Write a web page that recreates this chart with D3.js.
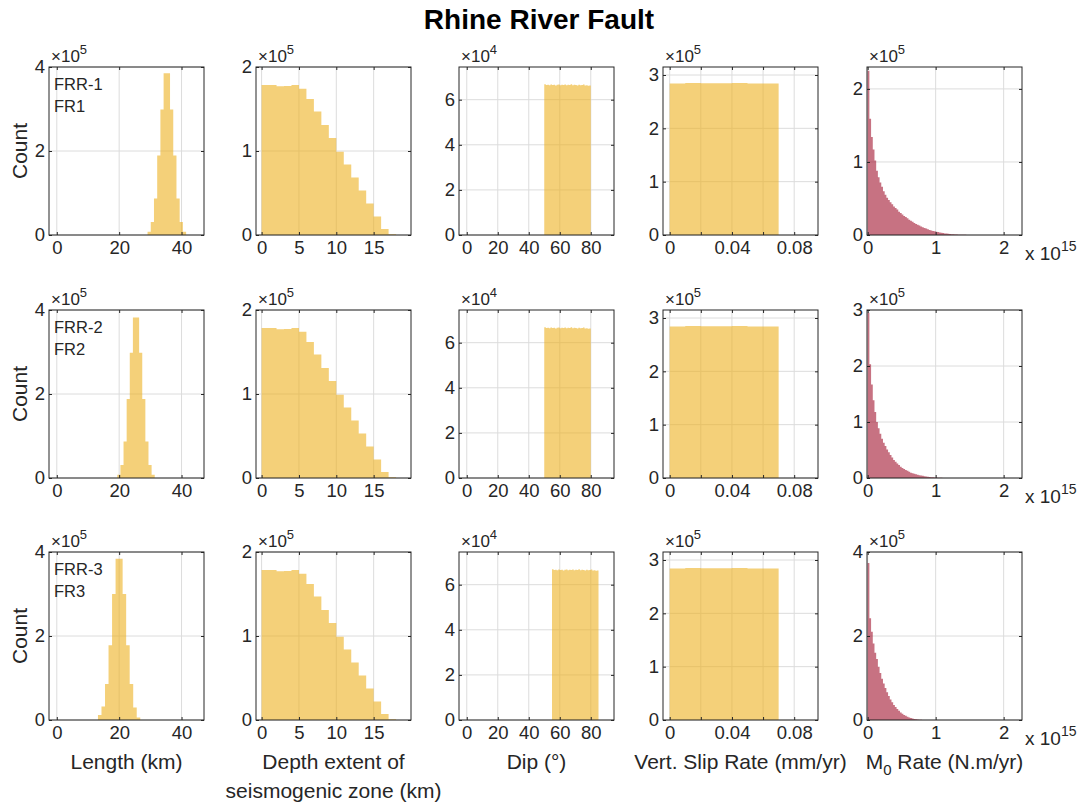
<!DOCTYPE html>
<html>
<head>
<meta charset="utf-8">
<script src="https://cdn.jsdelivr.net/npm/d3@7"></script>
<style>
  body { margin: 0; background: #fff; }
  text { font-family: "Liberation Sans", Arial, sans-serif; fill: #262626; }
</style>
</head>
<body>
<div class="container"></div>
<script>
// ---- data (counts are in units of the axis exponent) ----
const TITLE = "Rhine River Fault";
const rowTags = [["FRR-1", "FR1"], ["FRR-2", "FR2"], ["FRR-3", "FR3"]];

// Length (km), x10^5
const lengthStart = [29.1, 19.4, 13.2];
const lengthWidth = [1.03, 1.0, 1.13];
const lengthCounts = [
  [0.08, 0.31, 0.87, 1.89, 2.99, 3.85, 3.85, 2.99, 1.89, 0.87, 0.31, 0.08],
  [0.08, 0.31, 0.87, 1.88, 2.98, 3.82, 3.82, 2.98, 1.88, 0.87, 0.31, 0.08],
  [0.12, 0.32, 0.86, 1.78, 3.0, 3.84, 3.84, 3.0, 1.78, 0.86, 0.3, 0.06]
];

// Depth extent of seismogenic zone (km), 1 km bins from 0, x10^5
const depthCounts = [1.785, 1.785, 1.77, 1.775, 1.785, 1.74, 1.62, 1.47, 1.31,
  1.155, 0.99, 0.84, 0.685, 0.53, 0.375, 0.22, 0.07, 0.01];

// Dip (deg), 1 deg bins, x10^4
const dipStart = [50, 50, 55];
const dipCounts = [6.68, 6.65, 6.66, 6.64, 6.67, 6.65, 6.66, 6.63, 6.66, 6.67,
  6.64, 6.66, 6.65, 6.67, 6.64, 6.66, 6.65, 6.68, 6.64, 6.66,
  6.65, 6.63, 6.66, 6.64, 6.65, 6.67, 6.63, 6.64, 6.62, 6.63];

// Vertical slip rate (mm/yr), 0.01 bins from 0, x10^5
const slipCounts = [2.84, 2.85, 2.845, 2.845, 2.85, 2.84, 2.84];

// Moment rate (N.m/yr x10^15), 0.025 bins from 0, x10^5
const m0Counts = [
  [2.25, 1.59, 1.34, 1.17, 1.02, 0.88, 0.79, 0.72, 0.66, 0.60,
   0.55, 0.51, 0.48, 0.45, 0.42, 0.39, 0.37, 0.35, 0.32, 0.30,
   0.28, 0.26, 0.245, 0.23, 0.21, 0.195, 0.18, 0.165, 0.15, 0.14,
   0.13, 0.115, 0.105, 0.095, 0.09, 0.08, 0.07, 0.063, 0.056, 0.05,
   0.045, 0.04, 0.035, 0.03, 0.026, 0.022, 0.019, 0.016, 0.013, 0.011,
   0.009, 0.007, 0.006, 0.005, 0.004, 0.003, 0.002, 0.002, 0.001, 0.001],
  [2.95, 2.03, 1.67, 1.39, 1.18, 1.0, 0.89, 0.79, 0.7, 0.63,
   0.57, 0.51, 0.46, 0.41, 0.365, 0.32, 0.29, 0.26, 0.23, 0.20,
   0.18, 0.16, 0.145, 0.13, 0.11, 0.095, 0.085, 0.075, 0.065, 0.058,
   0.05, 0.044, 0.038, 0.032, 0.027, 0.023, 0.019, 0.015, 0.012, 0.009,
   0.007, 0.005, 0.004, 0.003, 0.002, 0.001],
  [3.74, 2.42, 2.1, 1.82, 1.6, 1.45, 1.27, 1.12, 0.98, 0.87,
   0.76, 0.66, 0.57, 0.49, 0.42, 0.36, 0.31, 0.26, 0.22, 0.18,
   0.15, 0.12, 0.1, 0.08, 0.06, 0.045, 0.033, 0.024, 0.016, 0.01,
   0.006, 0.003, 0.001]
];
const m0YMax = [2.3, 3, 4];
const m0YTicks = [[0, 1, 2], [0, 1, 2, 3], [0, 2, 4]];

const xLabels = [["Length (km)"], ["Depth extent of", "seismogenic zone (km)"],
  ["Dip (°)"], ["Vert. Slip Rate (mm/yr)"], null];

// ---- layout ----
const WIDTH = 1086, HEIGHT = 805;
const COL_X = [49, 256, 459, 663, 867];
const ROW_Y = [67, 310, 552];
const PW = 155, PH = 168;
const YELLOW = "#EDB120", RED = "#A2142F", GRID = "#dcdcdc", AX = "#262626";
const TICK_FS = 18.5, LABEL_FS = 21;

const svg = d3.select(".container").append("svg")
  .attr("width", WIDTH).attr("height", HEIGHT)
  .attr("viewBox", [0, 0, WIDTH, HEIGHT]);

svg.append("text")
  .attr("x", 539).attr("y", 29)
  .attr("text-anchor", "middle")
  .attr("font-size", 28).attr("font-weight", "bold")
  .style("fill", "#000")
  .text(TITLE);

function toBins(start, width, counts) {
  const pts = counts.map((v, i) => ({ x: start + i * width, v }));
  pts.push({ x: start + counts.length * width, v: counts[counts.length - 1] });
  return pts;
}

function drawPanel(p) {
  const x = d3.scaleLinear().domain(p.xDomain).range([p.left, p.left + PW]);
  const y = d3.scaleLinear().domain(p.yDomain).range([p.top + PH, p.top]);
  const g = svg.append("g");

  // grid
  g.append("g").selectAll("line").data(p.xTicks).join("line")
    .attr("x1", (d) => x(d)).attr("x2", (d) => x(d))
    .attr("y1", p.top).attr("y2", p.top + PH)
    .attr("stroke", GRID);
  g.append("g").selectAll("line").data(p.yTicks).join("line")
    .attr("y1", (d) => y(d)).attr("y2", (d) => y(d))
    .attr("x1", p.left).attr("x2", p.left + PW)
    .attr("stroke", GRID);

  // histogram as a stepped area
  const area = d3.area()
    .curve(d3.curveStepAfter)
    .x((d) => x(d.x))
    .y0(y(0))
    .y1((d) => y(d.v));
  g.append("path")
    .datum(p.bins)
    .attr("d", area)
    .attr("fill", p.color)
    .attr("fill-opacity", 0.6);

  // axes
  const styleAxis = (a) => {
    a.select(".domain").remove();
    a.selectAll(".tick line").attr("stroke", AX);
    a.selectAll(".tick text").attr("font-size", TICK_FS).attr("fill", AX)
      .style("font-family", '"Liberation Sans", Arial, sans-serif');
  };
  g.append("g")
    .attr("transform", `translate(0,${p.top + PH})`)
    .call(d3.axisBottom(x).tickValues(p.xTicks).tickSize(-3).tickPadding(6)
      .tickFormat(p.xFmt || d3.format("d")))
    .call(styleAxis);
  g.append("g")
    .attr("transform", `translate(${p.left},0)`)
    .call(d3.axisLeft(y).tickValues(p.yTicks).tickSize(-3).tickPadding(4)
      .tickFormat(d3.format("d")))
    .call(styleAxis);
  g.append("g")
    .attr("transform", `translate(0,${p.top})`)
    .call(d3.axisTop(x).tickValues(p.xTicks).tickSize(-3).tickFormat(""))
    .call(styleAxis);
  g.append("g")
    .attr("transform", `translate(${p.left + PW},0)`)
    .call(d3.axisRight(y).tickValues(p.yTicks).tickSize(-3).tickFormat(""))
    .call(styleAxis);

  g.append("rect")
    .attr("x", p.left).attr("y", p.top)
    .attr("width", PW).attr("height", PH)
    .attr("fill", "none").attr("stroke", AX).attr("stroke-width", 1);

  // y exponent
  const ex = g.append("text")
    .attr("x", p.left + 2).attr("y", p.top - 5)
    .attr("font-size", 17);
  ex.append("tspan").text("×10");
  ex.append("tspan").attr("font-size", 13).attr("dy", -8).text(p.yExp);
}

const slipFmt = (d) => (d === 0 ? "0" : [0.04, 0.08].some((t) => Math.abs(t - d) < 1e-9) ? d.toFixed(2) : "");

ROW_Y.forEach((top, r) => {
  // length
  drawPanel({
    left: COL_X[0], top,
    xDomain: [-2.5, 47.2], yDomain: [0, 4],
    xTicks: [0, 20, 40], yTicks: [0, 2, 4], yExp: "5",
    bins: toBins(lengthStart[r], lengthWidth[r], lengthCounts[r]),
    color: YELLOW
  });
  // depth
  drawPanel({
    left: COL_X[1], top,
    xDomain: [-0.75, 20], yDomain: [0, 2],
    xTicks: [0, 5, 10, 15], yTicks: [0, 1, 2], yExp: "5",
    bins: toBins(0, 1, depthCounts),
    color: YELLOW
  });
  // dip
  drawPanel({
    left: COL_X[2], top,
    xDomain: [-5, 95], yDomain: [0, 7.45],
    xTicks: [0, 20, 40, 60, 80], yTicks: [0, 2, 4, 6], yExp: "4",
    bins: toBins(dipStart[r], 1, dipCounts),
    color: YELLOW
  });
  // slip rate
  drawPanel({
    left: COL_X[3], top,
    xDomain: [-0.0043, 0.0953], yDomain: [0, 3.15],
    xTicks: [0, 0.02, 0.04, 0.06, 0.08], yTicks: [0, 1, 2, 3], yExp: "5",
    xFmt: slipFmt,
    bins: toBins(0, 0.01, slipCounts),
    color: YELLOW
  });
  // moment rate
  drawPanel({
    left: COL_X[4], top,
    xDomain: [-0.01, 2.27], yDomain: [0, m0YMax[r]],
    xTicks: [0, 1, 2], yTicks: m0YTicks[r], yExp: "5",
    bins: toBins(0, 0.025, m0Counts[r]),
    color: RED
  });

  // x10^15 on the moment rate axis
  const xe = svg.append("text")
    .attr("x", COL_X[4] + PW + 3).attr("y", top + PH + 25)
    .attr("font-size", 19);
  xe.append("tspan").text("x 10");
  xe.append("tspan").attr("font-size", 14).attr("dy", -9).text("15");

  // row tag and y label
  rowTags[r].forEach((t, i) => {
    svg.append("text")
      .attr("x", COL_X[0] + 5).attr("y", top + 23 + i * 21.5)
      .attr("font-size", 16.5)
      .text(t);
  });
  svg.append("text")
    .attr("transform", `translate(27,${top + PH / 2}) rotate(-90)`)
    .attr("text-anchor", "middle")
    .attr("font-size", LABEL_FS)
    .text("Count");
});

// x labels under bottom row
const labelY = ROW_Y[2] + PH + 49;
xLabels.forEach((lines, c) => {
  if (!lines) return;
  lines.forEach((t, i) => {
    svg.append("text")
      .attr("x", COL_X[c] + PW / 2).attr("y", labelY + i * 29)
      .attr("text-anchor", "middle")
      .attr("font-size", LABEL_FS)
      .text(t);
  });
});
const m0Label = svg.append("text")
  .attr("x", COL_X[4] + PW / 2).attr("y", labelY)
  .attr("text-anchor", "middle")
  .attr("font-size", LABEL_FS);
m0Label.append("tspan").text("M");
m0Label.append("tspan").attr("font-size", 15).attr("dy", 6).text("0");
m0Label.append("tspan").attr("dy", -6).text(" Rate (N.m/yr)");
</script>
</body>
</html>
